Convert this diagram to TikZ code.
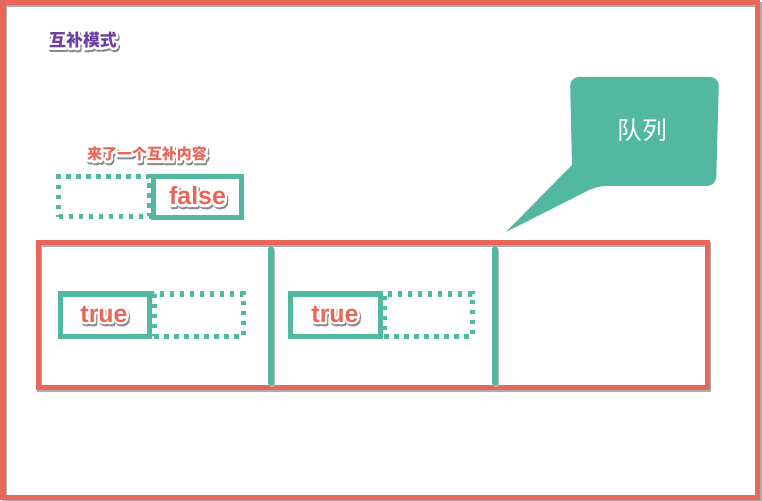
\documentclass[tikz,border=0pt]{standalone}
\usepackage{fontspec}
\setmainfont{Liberation Sans}
\newfontfamily\cjk{Noto Sans CJK SC}
\definecolor{qred}{HTML}{E8675A}
\definecolor{qteal}{HTML}{52B8A0}
\definecolor{qpurple}{HTML}{6B3FA0}
\definecolor{qshadow}{HTML}{8A8A8A}
\newcommand\strk[2]{\special{pdf:literal direct 2 Tr #1 w 1 J 1 j}#2\special{pdf:literal direct 0 Tr}}
\newcommand\halolabel[5]{%
  \node[text=qshadow,font=#4] at ([shift={(1.2,2)}]#2) {\strk{4.5}{#5}};%
  \node[text=white,font=#4] at (#2) {\strk{4.5}{#5}};%
  \node[text=#3,font=#4] (#1) at (#2) {#5};%
}
\tikzset{
  frame/.style={draw=qred,line width=5bp},
  frameshadow/.style={draw=qshadow!70,line width=5bp},
  solidbox/.style={draw=qteal,line width=5bp,minimum width=#1,minimum height=40bp,inner sep=0pt},
  dotbox/.style={draw=qteal,line width=5bp,dash pattern=on 4.5bp off 5.5bp,minimum width=#1,minimum height=40bp,inner sep=0pt},
  divider/.style={draw=qteal,line width=5.5bp,line cap=round},
}
\begin{document}
\begin{tikzpicture}[x=1bp,y=-1bp]
\useasboundingbox (0,0) rectangle (762,501);
\fill[white] (0,0) rectangle (762,501);
% outer frame
\draw[frameshadow] (4.5,5) rectangle (759.5,499);
\draw[frame] (3,3) rectangle (757,497);
% queue rectangle
\draw[frameshadow] (39.5,245) rectangle (708.5,389);
\draw[frame] (38,243) rectangle (707,387);
\coordinate (d1t) at (271,249);
\coordinate (d1b) at (271,383);
\coordinate (d2t) at (495,249);
\coordinate (d2b) at (495,383);
\draw[divider,draw=qshadow!60] ([shift={(1,1.5)}]d1t) -- ([shift={(1,1.5)}]d1b);
\draw[divider,draw=qshadow!60] ([shift={(1,1.5)}]d2t) -- ([shift={(1,1.5)}]d2b);
\draw[divider] (d1t) -- (d1b);
\draw[divider] (d2t) -- (d2b);
% callout
\fill[qteal] (506,232) -- (572,165) [rounded corners=9bp] -- (570,77) -- (719,77) -- (716,186) -- (597,186) [sharp corners] -- cycle;
\node[text=white,font=\cjk\fontsize{25}{29}\selectfont] (queue) at (642,130) {队列};
% incoming pair
\node[dotbox=91bp] (indot) at (104,197) {};
\node[solidbox=88bp,minimum height=41bp] (insolid) at (197.5,197.5) {};
% pair 1
\node[solidbox=89bp,minimum height=42bp] (s1) at (105,315) {};
\node[dotbox=89bp,minimum height=42bp] (o1) at (198.5,315) {};
% pair 2
\node[solidbox=90bp,minimum height=42bp] (s2) at (335.5,315) {};
\node[dotbox=88bp,minimum height=42bp] (o2) at (428,315) {};
% labels
\halolabel{mode}{83,40}{qpurple}{\cjk\bfseries\fontsize{17}{20}\selectfont}{互补模式}
\halolabel{incoming}{147,154}{qred}{\cjk\bfseries\fontsize{15}{18}\selectfont}{来了一个互补内容}
\halolabel{falsetext}{197.5,196}{qred}{\bfseries\fontsize{25}{28}\selectfont}{false}
\halolabel{truea}{104,314}{qred}{\bfseries\fontsize{25}{28}\selectfont}{true}
\halolabel{trueb}{335,314}{qred}{\bfseries\fontsize{25}{28}\selectfont}{true}
\end{tikzpicture}
\end{document}
